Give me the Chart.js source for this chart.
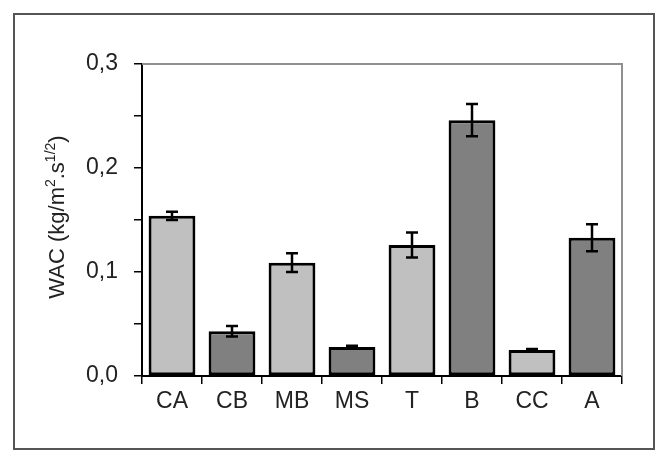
<!DOCTYPE html>
<html>
<head>
<meta charset="utf-8">
<script src="https://cdn.jsdelivr.net/npm/chart.js@4"></script>
<style>
  body { margin: 0; background: #fff; }
  #wrap { width: 668px; height: 462px; }
</style>
</head>
<body>
<div id="wrap"><canvas id="myChart" width="668" height="462"></canvas></div>
<script>
const ctx = document.getElementById("myChart").getContext("2d");

const labels = ["CA", "CB", "MB", "MS", "T", "B", "CC", "A"];
const wac = [0.154, 0.043, 0.109, 0.028, 0.126, 0.246, 0.025, 0.133];
const wacErr = [0.004, 0.005, 0.009, 0.001, 0.012, 0.0155, 0.001, 0.013];
const barColors = ["#c0c0c0", "#808080", "#c0c0c0", "#808080", "#c0c0c0", "#808080", "#c0c0c0", "#808080"];

// error bars, frame and the y title with superscripts
const extras = {
  id: "extras",
  afterDatasetsDraw(chart) {
    const c = chart.ctx;
    const y = chart.scales.y;
    const meta = chart.getDatasetMeta(0);
    c.save();
    c.strokeStyle = "#000";
    c.lineWidth = 2.5;
    meta.data.forEach((bar, i) => {
      const top = y.getPixelForValue(wac[i] + wacErr[i]);
      const bot = y.getPixelForValue(wac[i] - wacErr[i]);
      c.beginPath();
      c.moveTo(bar.x, top);
      c.lineTo(bar.x, bot);
      c.moveTo(bar.x - 6, top);
      c.lineTo(bar.x + 6, top);
      c.moveTo(bar.x - 6, bot);
      c.lineTo(bar.x + 6, bot);
      c.stroke();
    });
    c.restore();
  },
  afterDraw(chart) {
    const c = chart.ctx;
    const a = chart.chartArea;
    c.save();
    // gray top and right border of plot area
    c.strokeStyle = "#909090";
    c.lineWidth = 2;
    c.beginPath();
    c.moveTo(a.left, a.top);
    c.lineTo(a.right, a.top);
    c.lineTo(a.right, a.bottom);
    c.stroke();
    // outer frame
    c.strokeStyle = "#555";
    c.lineWidth = 2;
    c.strokeRect(14, 14, 640, 435);
    // y title
    c.translate(58, 217);
    c.rotate(-Math.PI / 2);
    c.fillStyle = "#222";
    c.textBaseline = "middle";
    const big = "22px 'Liberation Sans', Arial, sans-serif";
    const small = "14px 'Liberation Sans', Arial, sans-serif";
    const parts = [["WAC (kg/m", big, 0], ["2", small, -7], [".s", big, 0], ["1/2", small, -7], [")", big, 0]];
    let total = 0;
    parts.forEach(p => { c.font = p[1]; total += c.measureText(p[0]).width; });
    let x = -total / 2;
    parts.forEach(p => {
      c.font = p[1];
      c.fillText(p[0], x, p[2]);
      x += c.measureText(p[0]).width;
    });
    c.restore();
  }
};

const data = {
  labels,
  datasets: [
    {
      data: wac,
      backgroundColor: barColors,
      borderColor: "#000",
      borderWidth: 3,
      borderSkipped: false,
      barPercentage: 0.78,
      categoryPercentage: 1,
    },
  ],
};

const config = {
  type: "bar",
  data: data,
  plugins: [extras],
  options: {
    responsive: false,
    animation: false,
    layout: { padding: { left: 0, top: 64, right: 46, bottom: 0 } },
    plugins: { legend: { display: false }, tooltip: { enabled: false } },
    scales: {
      x: {
        afterFit: (s) => { s.height = 86; },
        grid: { offset: true, drawOnChartArea: false, tickLength: 8, color: "#000", lineWidth: 1.5 },
        border: { color: "#000", width: 2 },
        ticks: { color: "#222", padding: 4, font: { family: "'Liberation Sans', Arial", size: 23 } },
      },
      y: {
        min: 0,
        max: 0.3,
        afterFit: (s) => { s.width = 142; },
        grid: { drawOnChartArea: false, tickLength: 8, color: "#000", lineWidth: 1.5 },
        border: { color: "#000", width: 2 },
        ticks: {
          stepSize: 0.05,
          padding: 16,
          color: "#222",
          font: { family: "'Liberation Sans', Arial", size: 23 },
          callback: function (value) {
            const k = Math.round(value * 100);
            return k % 10 === 0 ? (k / 100).toFixed(1).replace(".", ",") : "";
          }
        }
      }
    }
  },
};

const myChart = new Chart(ctx, config);
</script>
</body>
</html>
